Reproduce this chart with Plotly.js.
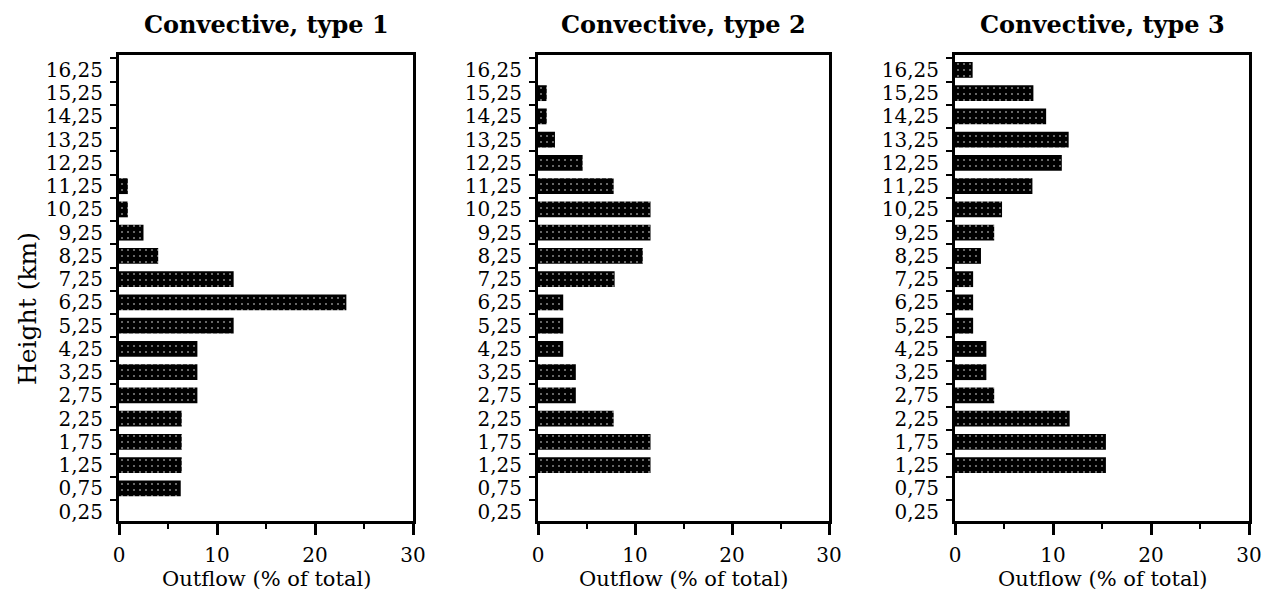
<!DOCTYPE html>
<html>
<head>
<meta charset="utf-8">
<script src="https://cdn.plot.ly/plotly-3.0.1.min.js"></script>
<style>html,body{margin:0;padding:0;background:#fff;}#chart{width:1263px;height:594px;}</style>
</head>
<body>
<div id="chart"></div>
<script>
// Height categories (km), bottom to top
const heights = ["0,25","0,75","1,25","1,75","2,25","2,75","3,25","4,25","5,25","6,25","7,25","8,25","9,25","10,25","11,25","12,25","13,25","14,25","15,25","16,25"];

// Outflow (% of total) per height, same order as heights
const type1 = [0, 6.3, 6.4, 6.4, 6.4, 8.0, 8.0, 8.0, 11.7, 23.2, 11.7, 4.0, 2.5, 0.9, 0.9, 0, 0, 0, 0, 0];
const type2 = [0, 0, 11.6, 11.6, 7.8, 3.9, 3.9, 2.6, 2.6, 2.6, 7.9, 10.8, 11.6, 11.6, 7.8, 4.6, 1.75, 0.9, 0.9, 0];
const type3 = [0, 0, 15.4, 15.4, 11.7, 4.0, 3.2, 3.2, 1.85, 1.85, 1.85, 2.65, 4.0, 4.8, 7.9, 10.9, 11.6, 9.3, 8.0, 1.8];

const panelTitles = ["Convective, type 1", "Convective, type 2", "Convective, type 3"];
const xTitle = "Outflow (% of total)";
const yTitle = "Height (km)";
const xTicks = [0, 10, 20, 30];

const W = 1263, H = 594;
const plotsPx = [[119, 413], [538, 829], [955, 1249]];
const yTopPx = 55, yBotPx = 521;
const serif = "DejaVu Serif";

const series = [type1, type2, type3];
const traces = series.map((vals, i) => ({
  type: "bar",
  orientation: "h",
  x: vals,
  y: heights,
  xaxis: i === 0 ? "x" : "x" + (i + 1),
  yaxis: i === 0 ? "y" : "y" + (i + 1),
  width: 0.68,
  marker: {
    color: "#000",
    line: {width: 0},
    pattern: {shape: ".", fgcolor: "#ffffff", bgcolor: "#000000", size: 6, solidity: 0.05, fillmode: "replace"}
  },
  hoverinfo: "x+y",
  showlegend: false
}));

const layout = {
  width: W, height: H,
  margin: {l: 0, r: 0, t: 0, b: 0},
  paper_bgcolor: "#fff",
  plot_bgcolor: "#fff",
  font: {family: serif, color: "#000", size: 20},
  annotations: [],
  bargap: 0.3
};

const yDomain = [1 - yBotPx / H, 1 - yTopPx / H];

plotsPx.forEach((px, i) => {
  const sfx = i === 0 ? "" : String(i + 1);
  const dom = [px[0] / W, px[1] / W];
  layout["xaxis" + sfx] = {
    domain: dom,
    anchor: "y" + sfx,
    range: [0, 30],
    tickmode: "array",
    tickvals: xTicks,
    ticktext: xTicks.map(String),
    ticks: "outside",
    ticklen: 11,
    tickwidth: 3,
    tickcolor: "#000",
    ticklabelstandoff: 3,
    minor: {dtick: 5, tick0: 0, ticks: "outside", ticklen: 5, tickwidth: 2, tickcolor: "#000"},
    showgrid: false,
    zeroline: false,
    showline: true,
    linewidth: 3,
    linecolor: "#000",
    mirror: true,
    fixedrange: true,
    tickfont: {family: serif, size: 20, color: "#000"}
  };
  layout["yaxis" + sfx] = {
    domain: yDomain,
    anchor: "x" + sfx,
    type: "category",
    categoryorder: "array",
    categoryarray: heights,
    range: [-0.4, 19.64],
    tickmode: "array",
    tickvals: heights,
    ticktext: heights,
    tickson: "boundaries",
    ticks: "outside",
    ticklen: 6,
    tickwidth: 2,
    tickcolor: "#000",
    ticklabelstandoff: 9,
    showgrid: false,
    zeroline: false,
    showline: true,
    linewidth: 3,
    linecolor: "#000",
    mirror: true,
    fixedrange: true,
    tickfont: {family: serif, size: 20, color: "#000"}
  };
  const cx = (px[0] + px[1]) / 2 / W;
  layout.annotations.push({
    text: panelTitles[i], xref: "paper", yref: "paper",
    x: cx, y: 1 - 25 / H, xanchor: "center", yanchor: "middle", showarrow: false,
    font: {family: serif, size: 24, weight: "bold", color: "#000"}
  });
  layout.annotations.push({
    text: xTitle, xref: "paper", yref: "paper",
    x: cx, y: 1 - 579 / H, xanchor: "center", yanchor: "middle", showarrow: false,
    font: {family: serif, size: 21, color: "#000"}
  });
});

layout.annotations.push({
  text: yTitle, xref: "paper", yref: "paper",
  x: 27 / W, y: 1 - 309 / H, xanchor: "center", yanchor: "middle", showarrow: false,
  textangle: -90,
  font: {family: serif, size: 25, color: "#000"}
});

Plotly.newPlot("chart", traces, layout, {displayModeBar: false, staticPlot: true});
</script>
</body>
</html>
